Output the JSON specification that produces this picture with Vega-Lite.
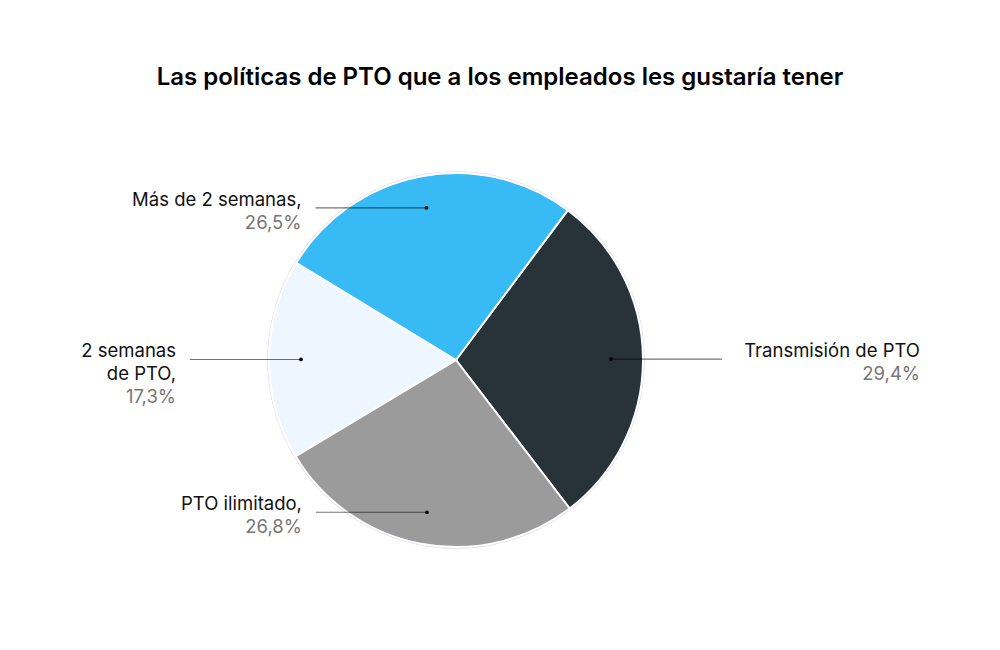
{
  "$schema": "https://vega.github.io/schema/vega-lite/v6.json",
  "width": 912,
  "height": 520,
  "autosize": {"type": "none"},
  "padding": {"left": 0, "top": 100, "right": 88, "bottom": 30},
  "background": "#ffffff",
  "title": {
    "text": "Las políticas de PTO que a los empleados les gustaría tener",
    "font": "Inter",
    "fontSize": 24,
    "fontWeight": 600,
    "color": "#000000",
    "anchor": "middle",
    "dx": 44,
    "baseline": "alphabetic",
    "offset": -9
  },
  "config": {
    "view": {"stroke": null},
    "locale": {"number": {"decimal": ",", "thousands": ".", "grouping": [3], "currency": ["", " €"]}}
  },
  "data": {
    "values": [
      {"categoria": "Transmisión de PTO", "nombre": "Transmisión de PTO", "valor": 29.4, "orden": 1},
      {"categoria": "PTO ilimitado", "nombre": "PTO ilimitado,", "valor": 26.8, "orden": 2},
      {"categoria": "2 semanas de PTO", "nombre": "2 semanas\nde PTO,", "valor": 17.3, "orden": 3},
      {"categoria": "Más de 2 semanas", "nombre": "Más de 2 semanas,", "valor": 26.5, "orden": 4}
    ]
  },
  "transform": [
    {"joinaggregate": [{"op": "sum", "field": "valor", "as": "total"}]},
    {"window": [{"op": "sum", "field": "valor", "as": "acum"}], "sort": [{"field": "orden"}], "frame": [null, 0]},
    {"calculate": "0.641 + 2*PI*(datum.acum - datum.valor/2)/datum.total", "as": "ang"},
    {"calculate": "155*sin(datum.ang)", "as": "px"},
    {"calculate": "155*cos(datum.ang)", "as": "py"},
    {"calculate": "datum.px >= 0 ? datum.px + 111 : datum.px - 111", "as": "px2"},
    {"calculate": "datum.px >= 0 ? datum.px + 309 : datum.px - 125", "as": "lx"},
    {"calculate": "datum.py + 8", "as": "ny"},
    {"calculate": "datum.ny - 23*length(split(datum.nombre, '\\n'))", "as": "pcty"},
    {"calculate": "datum.valor/datum.total", "as": "frac"}
  ],
  "layer": [
    {
      "mark": {"type": "arc", "theta": 0, "theta2": 6.2832, "outerRadius": 188.5, "fill": "#e6e3f0"},
      "encoding": {}
    },
    {
      "mark": {"type": "arc", "outerRadius": 187, "stroke": "#ffffff", "strokeWidth": 2},
      "encoding": {
        "theta": {"field": "valor", "type": "quantitative", "stack": true, "scale": {"range": [0.641, 6.9242]}},
        "order": {"field": "orden", "type": "quantitative"},
        "color": {
          "field": "categoria",
          "type": "nominal",
          "legend": null,
          "scale": {
            "domain": ["Transmisión de PTO", "PTO ilimitado", "2 semanas de PTO", "Más de 2 semanas"],
            "range": ["#283239", "#9b9b9b", "#eef7ff", "#38bbf5"]
          }
        }
      }
    },
    {
      "mark": {"type": "rule", "color": "#000000", "opacity": 0.55, "strokeWidth": 1.2},
      "encoding": {
        "x": {"field": "px", "type": "quantitative", "scale": {"domain": [-456, 456], "nice": false, "zero": false}, "axis": null},
        "x2": {"field": "px2"},
        "y": {"field": "py", "type": "quantitative", "scale": {"domain": [-260, 260], "nice": false, "zero": false}, "axis": null}
      }
    },
    {
      "mark": {"type": "point", "filled": true, "size": 14, "color": "#000000", "opacity": 1},
      "encoding": {
        "x": {"field": "px", "type": "quantitative"},
        "y": {"field": "py", "type": "quantitative"}
      }
    },
    {
      "mark": {"type": "text", "font": "Inter", "fontSize": 18.5, "color": "#111111", "align": "right", "baseline": "middle", "lineBreak": "\n", "lineHeight": 23},
      "encoding": {
        "x": {"field": "lx", "type": "quantitative"},
        "y": {"field": "ny", "type": "quantitative"},
        "text": {"field": "nombre", "type": "nominal"}
      }
    },
    {
      "mark": {"type": "text", "font": "Inter", "fontSize": 18.5, "color": "#777777", "align": "right", "baseline": "middle"},
      "encoding": {
        "x": {"field": "lx", "type": "quantitative"},
        "y": {"field": "pcty", "type": "quantitative"},
        "text": {"field": "frac", "type": "quantitative", "format": ".1%"}
      }
    }
  ]
}
